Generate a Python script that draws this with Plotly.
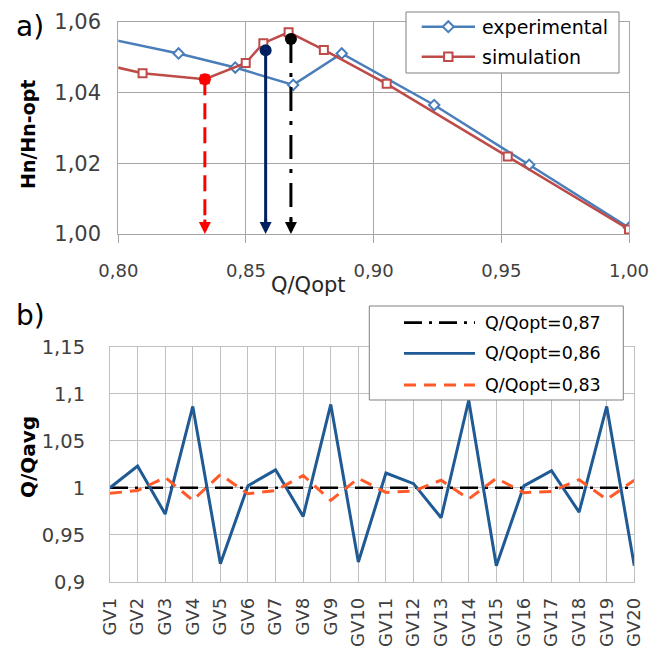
import plotly.graph_objects as go

# ---------------- data ----------------
# a) head curve Hn/Hn-opt versus Q/Qopt
exp_q = [0.790, 0.8236, 0.8458, 0.8685, 0.8875, 0.9237, 0.9609, 1.000]
exp_h = [1.0562, 1.0511, 1.0471, 1.0422, 1.0511, 1.0365, 1.0196, 1.0018]

sim_q = [0.790, 0.8095, 0.8339, 0.8499, 0.8568, 0.8667, 0.8805, 0.9051, 0.9525, 1.000]
sim_h = [1.0487, 1.0455, 1.0438, 1.0484, 1.0540, 1.0571, 1.0521, 1.0425, 1.0219, 1.0013]

# operating points marked with arrows
op_q = [0.8339, 0.8577, 0.8676]
op_h = [1.0438, 1.0520, 1.0552]

# b) flow distribution among guide vanes
guide_vanes = ["GV%d" % i for i in range(1, 21)]
q087 = [1.0] * 20
q086 = [1.000, 1.023, 0.972, 1.0865, 0.919, 1.002, 1.019, 0.9695, 1.0886, 0.921,
        1.0156, 1.0043, 0.968, 1.093, 0.917, 1.002, 1.018, 0.974, 1.0865, 0.917]
q083 = [0.994, 0.997, 1.011, 0.9865, 1.014, 0.9936, 0.997, 1.013, 0.9865, 1.010,
        0.995, 0.9964, 1.008, 0.988, 1.010, 0.9947, 0.996, 1.0085, 0.9875, 1.008]

x_ticks_a = [0.80, 0.85, 0.90, 0.95, 1.00]
y_ticks_a = [1.00, 1.02, 1.04, 1.06]
y_ticks_b = [0.9, 0.95, 1.0, 1.05, 1.1, 1.15]

# ---------------- styling ----------------
W, H = 669, 649
FONT = "DejaVu Sans"
TICK_COL = "#404040"
BLUE_A = "#4a7ebb"
RED_A = "#be4b48"
NAVY = "#002060"
RED = "#ff0000"
BLUE_B = "#1f5a94"
ORANGE_B = "#ff5a28"
GRID_A = "#a6a6a6"
GRID_B = "#c0c0c0"
OP_COLORS = [RED, NAVY, "#000000"]
OP_DASH = ["16px,8px", "solid", "24px,10px,4px,10px"]


def px(x):
    return x / W


def py(y):
    return 1 - y / H


fig = go.Figure()

# ---- panel a ----
fig.add_trace(go.Scatter(
    x=exp_q, y=exp_h, mode="lines+markers", xaxis="x", yaxis="y",
    line=dict(color=BLUE_A, width=2.5),
    marker=dict(symbol="diamond", size=8, color="white",
                line=dict(color=BLUE_A, width=2)),
    showlegend=False))
fig.add_trace(go.Scatter(
    x=sim_q, y=sim_h, mode="lines+markers", xaxis="x", yaxis="y",
    line=dict(color=RED_A, width=2.5),
    marker=dict(symbol="square", size=8, color="white",
                line=dict(color=RED_A, width=2)),
    showlegend=False))

for q, h, c, d in zip(op_q, op_h, OP_COLORS, OP_DASH):
    fig.add_trace(go.Scatter(
        x=[q, q], y=[h, 1.003], mode="lines", xaxis="x", yaxis="y",
        line=dict(color=c, width=3, dash=d), showlegend=False))
    fig.add_trace(go.Scatter(
        x=[q], y=[h], mode="markers", xaxis="x", yaxis="y",
        marker=dict(symbol="circle", size=12, color=c), showlegend=False))
    fig.add_annotation(
        x=q, y=1.0, ax=q, ay=1.0045, xref="x", yref="y", axref="x", ayref="y",
        text="", showarrow=True, arrowhead=2, arrowsize=0.8, arrowwidth=3,
        arrowcolor=c, standoff=0)

# ---- panel b ----
fig.add_trace(go.Scatter(
    x=guide_vanes, y=q087, mode="lines", xaxis="x2", yaxis="y2",
    line=dict(color="#000000", width=2.5, dash="18px,7px,3px,7px"),
    showlegend=False))
fig.add_trace(go.Scatter(
    x=guide_vanes, y=q086, mode="lines", xaxis="x2", yaxis="y2",
    line=dict(color=BLUE_B, width=3), showlegend=False))
fig.add_trace(go.Scatter(
    x=guide_vanes, y=q083, mode="lines", xaxis="x2", yaxis="y2",
    line=dict(color=ORANGE_B, width=3, dash="12px,8px"), showlegend=False))


def axis_style(grid, size, **extra):
    d = dict(showline=True, mirror=True, zeroline=False, automargin=False,
             showgrid=True, gridcolor=grid, linecolor=grid,
             tickfont=dict(family=FONT, color=TICK_COL, size=size))
    d.update(extra)
    return d


fig.update_layout(
    width=W, height=H,
    margin=dict(l=0, r=0, t=0, b=0, autoexpand=False),
    paper_bgcolor="white", plot_bgcolor="white",
    font=dict(family=FONT),
    xaxis=axis_style(GRID_A, 18,
                     domain=[px(118.3), px(629)], range=[0.80, 1.00],
                     tickvals=x_ticks_a,
                     ticktext=[("%.2f" % v).replace(".", ",") for v in x_ticks_a],
                     ticks="outside", ticklen=8, tickcolor=GRID_A,
                     ticklabelstandoff=12, anchor="y"),
    yaxis=axis_style(GRID_A, 21,
                     domain=[py(234), py(22)], range=[1.00, 1.06],
                     tickvals=y_ticks_a,
                     ticktext=[("%.2f" % v).replace(".", ",") for v in y_ticks_a],
                     ticklabelstandoff=12, anchor="x"),
    xaxis2=axis_style(GRID_B, 18,
                      domain=[px(110), px(634.3)], type="category",
                      categoryorder="array", categoryarray=guide_vanes,
                      range=[0, 19], tickangle=-90, dtick=1,
                      ticklabelstandoff=8, anchor="y2"),
    yaxis2=axis_style(GRID_B, 19.5,
                      domain=[py(581.7), py(346.7)], range=[0.9, 1.15],
                      tickvals=y_ticks_b,
                      ticktext=[("%g" % v).replace(".", ",") for v in y_ticks_b],
                      ticklabelstandoff=20, anchor="x2"),
)

# ---- titles and panel letters ----
texts = [
    dict(text="a)", x=px(30), y=py(27), size=28, bold=False, angle=0, color="#000000"),
    dict(text="b)", x=px(30), y=py(315), size=28, bold=False, angle=0, color="#000000"),
    dict(text="Hn/Hn-opt", x=px(28), y=py(135), size=19, bold=True, angle=-90, color="#000000"),
    dict(text="Q/Qopt", x=px(308), y=py(285), size=21, bold=False, angle=0, color="#262626"),
    dict(text="Q/Qavg", x=px(28), y=py(457), size=20, bold=True, angle=-90, color="#000000"),
]
for t in texts:
    fig.add_annotation(
        text=("<b>%s</b>" % t["text"]) if t["bold"] else t["text"],
        x=t["x"], y=t["y"], xref="paper", yref="paper",
        xanchor="center", yanchor="middle", showarrow=False,
        textangle=t["angle"], font=dict(family=FONT, size=t["size"], color=t["color"]))

# ---- legend of panel a ----
shapes = []
shapes.append(dict(type="rect", xref="paper", yref="paper",
                   x0=px(406), x1=px(619), y0=py(73), y1=py(12),
                   fillcolor="white", line=dict(color="#808080", width=1), layer="above"))
legend_a = [("experimental", BLUE_A, "diamond", 26.7),
            ("simulation", RED_A, "square", 56.7)]
for name, col, sym, yy in legend_a:
    shapes.append(dict(type="line", xref="paper", yref="paper",
                       x0=px(421.7), x1=px(475), y0=py(yy), y1=py(yy),
                       line=dict(color=col, width=2.5), layer="above"))
    cx = 448.3
    if sym == "diamond":
        r = 5.5
        path = "M %f,%f L %f,%f L %f,%f L %f,%f Z" % (
            px(cx - r), py(yy), px(cx), py(yy - r), px(cx + r), py(yy), px(cx), py(yy + r))
        shapes.append(dict(type="path", xref="paper", yref="paper", path=path,
                           fillcolor="white", line=dict(color=col, width=2), layer="above"))
    else:
        r = 4.2
        shapes.append(dict(type="rect", xref="paper", yref="paper",
                           x0=px(cx - r), x1=px(cx + r), y0=py(yy + r), y1=py(yy - r),
                           fillcolor="white", line=dict(color=col, width=2), layer="above"))
    fig.add_annotation(text=name, x=px(480), y=py(yy), xref="paper", yref="paper",
                       xanchor="left", yanchor="middle", showarrow=False,
                       font=dict(family=FONT, size=19, color="#000000"))

# ---- legend of panel b ----
shapes.append(dict(type="rect", xref="paper", yref="paper",
                   x0=px(369.3), x1=px(623.3), y0=py(400), y1=py(306),
                   fillcolor="white", line=dict(color="#808080", width=1), layer="above"))
legend_b = [("Q/Qopt=0,87", "#000000", "18px,7px,3px,7px", 322.7),
            ("Q/Qopt=0,86", BLUE_B, "solid", 353.3),
            ("Q/Qopt=0,83", ORANGE_B, "12px,8px", 385.0)]
for name, col, dash, yy in legend_b:
    shapes.append(dict(type="line", xref="paper", yref="paper",
                       x0=px(404), x1=px(475), y0=py(yy), y1=py(yy),
                       line=dict(color=col, width=2.8, dash=dash), layer="above"))
    fig.add_annotation(text=name, x=px(483), y=py(yy), xref="paper", yref="paper",
                       xanchor="left", yanchor="middle", showarrow=False,
                       font=dict(family=FONT, size=17.5, color="#000000"))

fig.update_layout(shapes=shapes)

fig.write_html("out.html")
